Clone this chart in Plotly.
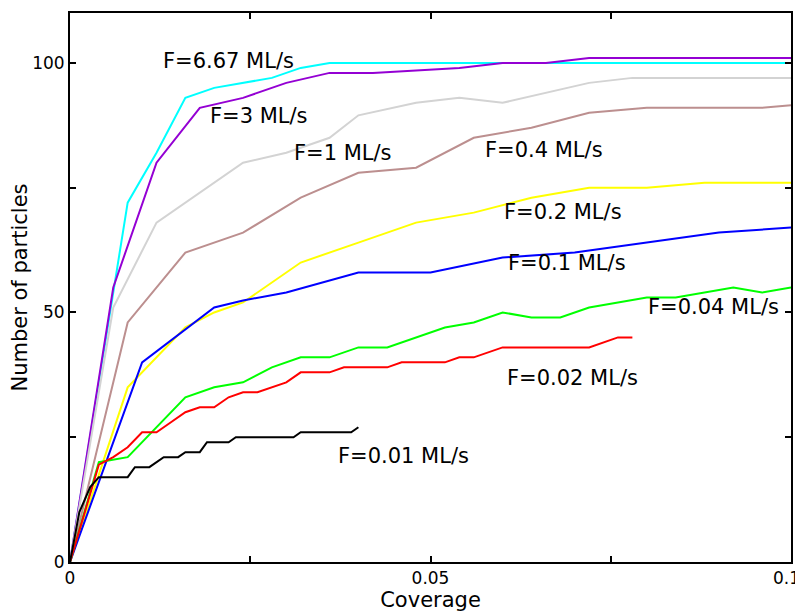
import plotly.graph_objects as go

# ---- data ----
x_667 = [0, 0.008, 0.012, 0.016, 0.020, 0.028, 0.032, 0.036, 0.1]
y_667 = [0, 72, 82, 93, 95, 97, 99, 100, 100]

x_3 = [0, 0.006, 0.012, 0.018, 0.024, 0.030, 0.036, 0.042, 0.054, 0.060, 0.066, 0.072, 0.1]
y_3 = [0, 55, 80, 91, 93, 96, 98, 98, 99, 100, 100, 101, 101]

x_1 = [0, 0.006, 0.012, 0.024, 0.030, 0.036, 0.040, 0.048, 0.054, 0.060, 0.072, 0.078, 0.1]
y_1 = [0, 51, 68, 80, 82, 85, 89.5, 92, 93, 92, 96, 97, 97]

x_04 = [0, 0.008, 0.016, 0.024, 0.032, 0.040, 0.048, 0.056, 0.064, 0.072, 0.080, 0.096, 0.1]
y_04 = [0, 48, 62, 66, 73, 78, 79, 85, 87, 90, 91, 91, 91.5]

x_02 = [0, 0.008, 0.016, 0.020, 0.024, 0.032, 0.040, 0.048, 0.056, 0.064, 0.072, 0.080, 0.088, 0.1]
y_02 = [0, 35, 47, 50, 52, 60, 64, 68, 70, 73, 75, 75, 76, 76]

x_01 = [0, 0.010, 0.020, 0.024, 0.030, 0.040, 0.050, 0.060, 0.070, 0.080, 0.090, 0.1]
y_01 = [0, 40, 51, 52.4, 54, 58, 58, 61, 62, 64, 66, 67]

x_004 = [0, 0.004, 0.008, 0.016, 0.020, 0.024, 0.028, 0.032, 0.036, 0.040, 0.044, 0.052,
         0.056, 0.060, 0.064, 0.068, 0.072, 0.076, 0.080, 0.084, 0.088, 0.092, 0.096, 0.1]
y_004 = [0, 20, 21, 33, 35, 36, 39, 41, 41, 43, 43, 47,
         48, 50, 49, 49, 51, 52, 53, 53, 54, 55, 54, 55]

x_002 = [0, 0.004, 0.006, 0.008, 0.010, 0.012, 0.014, 0.016, 0.018, 0.020, 0.022, 0.024,
         0.026, 0.028, 0.030, 0.032, 0.036, 0.038, 0.044, 0.046, 0.052, 0.054, 0.056,
         0.060, 0.072, 0.076, 0.078]
y_002 = [0, 19.5, 21, 23, 26, 26, 28, 30, 31, 31, 33, 34,
         34, 35, 36, 38, 38, 39, 39, 40, 40, 41, 41,
         43, 43, 45, 45]

x_001 = [0, 0.0013, 0.0028, 0.004, 0.008, 0.009, 0.011, 0.013, 0.015, 0.016, 0.018,
         0.019, 0.022, 0.023, 0.031, 0.032, 0.039, 0.040]
y_001 = [0, 10, 15, 17, 17, 19, 19, 21, 21, 22, 22,
         24, 24, 25, 25, 26, 26, 27]

series_x = [x_667, x_3, x_1, x_04, x_02, x_01, x_004, x_002, x_001]
series_y = [y_667, y_3, y_1, y_04, y_02, y_01, y_004, y_002, y_001]
series_names = ["F=6.67 ML/s", "F=3 ML/s", "F=1 ML/s", "F=0.4 ML/s", "F=0.2 ML/s",
                "F=0.1 ML/s", "F=0.04 ML/s", "F=0.02 ML/s", "F=0.01 ML/s"]
series_colors = ["#00FFFF", "#9400D3", "#D3D3D3", "#BC8F8F", "#FFFF00",
                 "#0000FF", "#00FF00", "#FF0000", "#000000"]

x_tickvals = [0, 0.025, 0.05, 0.075, 0.1]
x_ticktext = ["0", "", "0.05", "", ""]
x_last_label = "0.1"   # drawn separately so it stays inside the window
x_max = 0.1
y_tickvals = [0, 25, 50, 75, 100]
y_ticktext = ["0", "", "50", "", "100"]

# label anchor points (data coordinates)
label_x = [0.0220, 0.0262, 0.0378, 0.0657, 0.0684, 0.0690, 0.0893, 0.0697, 0.0462]
label_y = [100.4, 89.4, 82.0, 82.6, 70.2, 60.0, 51.0, 36.9, 21.2]

FONT = "DejaVu Sans"

fig = go.Figure()
for xs, ys, name, col in zip(series_x, series_y, series_names, series_colors):
    fig.add_trace(go.Scatter(x=xs, y=ys, mode="lines", name=name,
                             line=dict(color=col, width=2), showlegend=False))

for name, lx, ly in zip(series_names, label_x, label_y):
    fig.add_annotation(x=lx, y=ly, text=name, showarrow=False,
                       xanchor="center", yanchor="middle",
                       font=dict(family=FONT, size=21, color="black"))

# last x tick label, nudged left so it is not clipped by the window edge
fig.add_annotation(x=x_max, y=0, text=x_last_label, showarrow=False,
                   xanchor="right", yanchor="middle", xshift=11, yshift=-16,
                   font=dict(family=FONT, size=17, color="black"))

axis_common = dict(showline=True, linewidth=2, linecolor="black", mirror="allticks",
                   ticks="inside", ticklen=6, tickwidth=1.5, tickcolor="black",
                   showgrid=False, zeroline=False,
                   tickfont=dict(family=FONT, size=17, color="black"))

fig.update_xaxes(range=[0, x_max], tickvals=x_tickvals, ticktext=x_ticktext,
                 title=dict(text="Coverage", font=dict(family=FONT, size=21, color="black"),
                            standoff=0),
                 **axis_common)
fig.update_yaxes(range=[0, 110], tickvals=y_tickvals, ticktext=y_ticktext,
                 title=dict(text="Number of particles", font=dict(family=FONT, size=21, color="black"),
                            standoff=4),
                 **axis_common)

# page body has an 8px default margin, so the figure is sized to fit the 803x612 window
fig.update_layout(width=795, height=604,
                  margin=dict(l=62, r=12, t=5, b=50, autoexpand=False),
                  plot_bgcolor="white", paper_bgcolor="white",
                  font=dict(family=FONT, color="black"))

fig.write_html("out.html")
